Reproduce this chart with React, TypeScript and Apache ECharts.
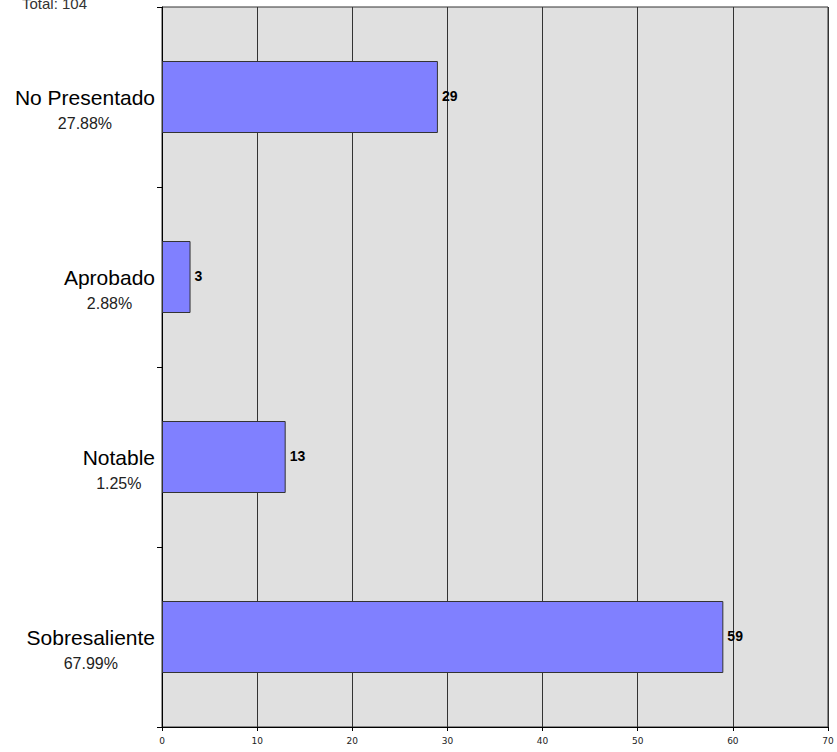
import React, { useEffect, useRef } from "react";
import * as echarts from "echarts";

const categories = ["No Presentado", "Aprobado", "Notable", "Sobresaliente"];
const percentages = ["27.88%", "2.88%", "1.25%", "67.99%"];
const counts = [29, 3, 13, 59];
const totalLabel = "Total: 104";
const xTicks = { min: 0, max: 70, interval: 10 };

const FONT = "'Liberation Sans', Arial, sans-serif";

export default function App() {
  const ref = useRef<HTMLDivElement>(null);
  useEffect(() => {
    if (!ref.current) return;
    const chart = echarts.init(ref.current, null, { renderer: "svg" });
    chart.setOption({
      animation: false,
      backgroundColor: "#ffffff",
      graphic: [
        {
          type: "text",
          left: 22,
          top: -4,
          style: { text: totalLabel, font: `15px ${FONT}`, fill: "#333" },
        },
      ],
      grid: {
        left: 162,
        top: 7,
        right: 9,
        bottom: 25,
        show: true,
        backgroundColor: "#e0e0e0",
        borderColor: "#333",
        borderWidth: 1,
      },
      xAxis: {
        type: "value",
        min: xTicks.min,
        max: xTicks.max,
        interval: xTicks.interval,
        axisLine: { show: true, lineStyle: { color: "#000", width: 1 } },
        axisTick: { show: true, length: 4, lineStyle: { color: "#000" } },
        axisLabel: {
          margin: 9,
          fontSize: 9,
          fontFamily: "'DejaVu Sans', Tahoma, sans-serif",
          color: "#222",
        },
        splitLine: { show: true, lineStyle: { color: "#333", width: 1 } },
      },
      yAxis: {
        type: "category",
        inverse: true,
        data: categories,
        axisLine: { show: true, lineStyle: { color: "#000", width: 1 } },
        axisTick: { show: true, length: 5, lineStyle: { color: "#000" } },
        axisLabel: {
          margin: 7,
          align: "right",
          padding: [26, 0, 0, 0],
          formatter: (v: string, i: number) => `{a|${v}}\n{b|${percentages[i]}}`,
          rich: {
            a: { fontSize: 21, fontFamily: FONT, color: "#000", align: "center", lineHeight: 26 },
            b: { fontSize: 16, fontFamily: FONT, color: "#222", align: "center", lineHeight: 26 },
          },
        },
      },
      series: [
        {
          type: "bar",
          data: counts,
          barWidth: "40%",
          itemStyle: { color: "#8080ff", borderColor: "#333", borderWidth: 1 },
          label: {
            show: true,
            position: "right",
            distance: 4,
            fontSize: 14,
            fontWeight: "bold",
            fontFamily: FONT,
            color: "#000",
            offset: [0, -1],
          },
        },
      ],
    });
    return () => chart.dispose();
  }, []);
  return (
    <div
      ref={ref}
      style={{ position: "fixed", left: 0, top: 0, width: 837, height: 752 }}
    />
  );
}
